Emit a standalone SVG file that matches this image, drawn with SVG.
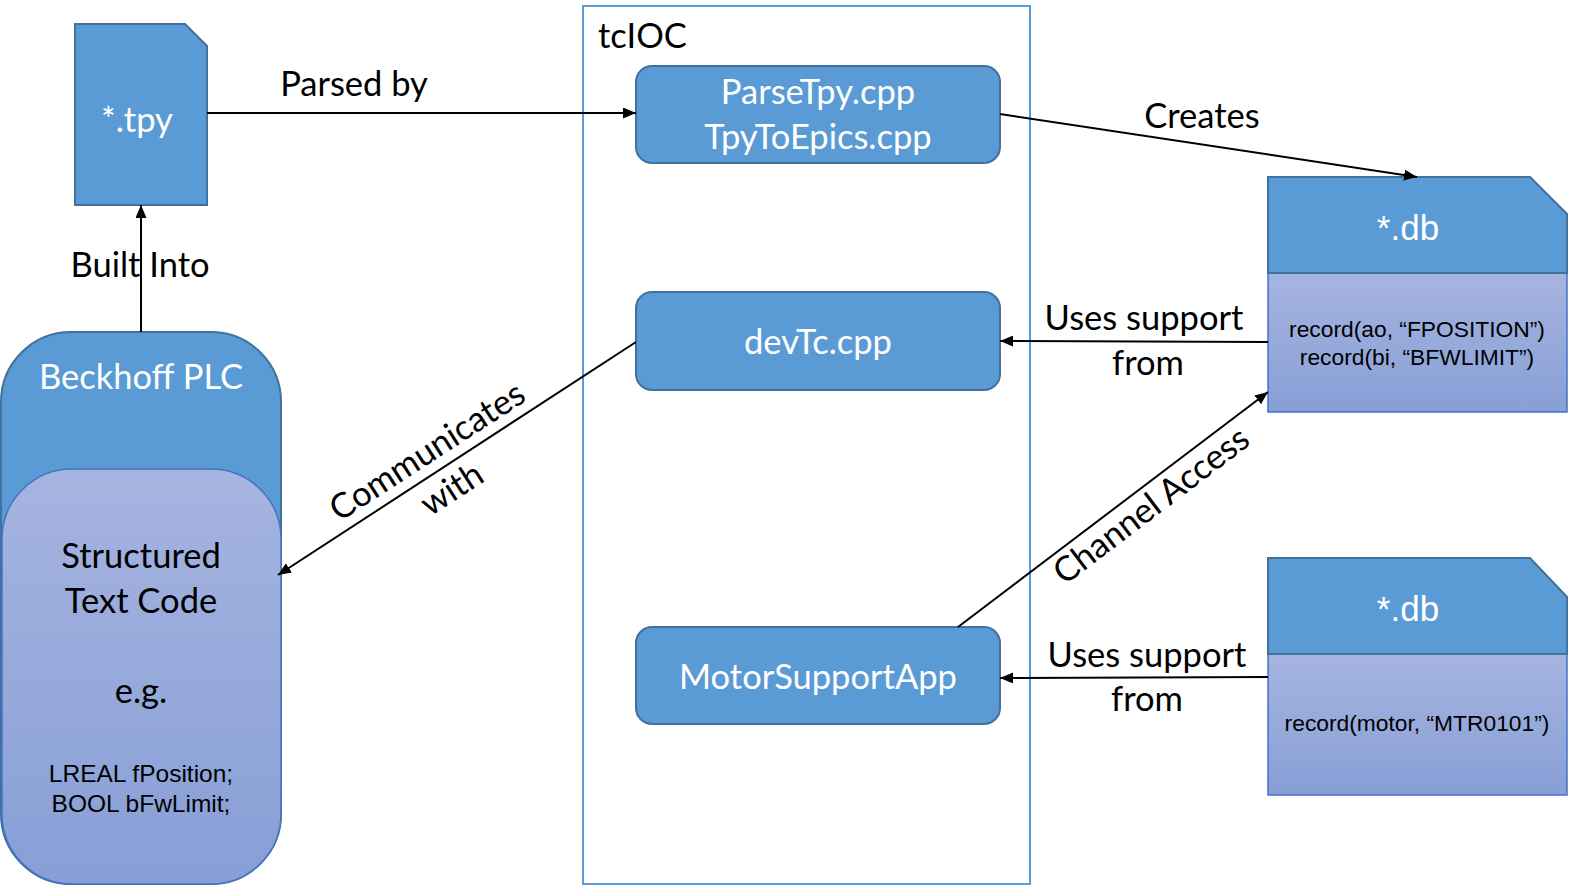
<svg xmlns="http://www.w3.org/2000/svg" width="1570" height="886" viewBox="0 0 1570 886">
<style>
.blue{fill:#5B9BD5;stroke:#41719C;stroke-width:2}
.grad{fill:url(#g);stroke:#4472C4;stroke-width:1.5}
.t{font-family:Lato,"Liberation Sans",sans-serif;font-size:34.5px;text-anchor:middle}
.a{font-family:"Liberation Sans",Arial,sans-serif;text-anchor:middle}
.w{fill:#fff}
.k{fill:#000}
.ln{stroke:#000;stroke-width:2;fill:none;marker-end:url(#arr)}
</style>
<defs>
<linearGradient id="g" x1="0" y1="0" x2="0" y2="1">
<stop offset="0" stop-color="#A6B4E0"/>
<stop offset="1" stop-color="#879FD6"/>
</linearGradient>
<marker id="arr" viewBox="0 0 13 11" refX="13" refY="5.5" markerWidth="13" markerHeight="11" markerUnits="userSpaceOnUse" orient="auto">
<path d="M0,0 L13,5.5 L0,11 z" fill="#000"/>
</marker>
</defs>
<rect id="tcIOC" x="583" y="6" width="447" height="878" fill="none" stroke="#5B9BD5" stroke-width="2"/>
<text class="t k" x="598" y="48" style="text-anchor:start">tcIOC</text>
<g id="tpy">
<path class="blue" d="M75,24 H185 L207,46 V205 H75 Z"/>
<text class="t w" x="137" y="132">*.tpy</text>
</g>
<g id="plc">
<rect class="blue" x="1" y="332" width="280" height="552" rx="70" ry="70"/>
<rect class="grad" x="2" y="469" width="279" height="415" rx="70" ry="70"/>
<text class="t w" x="141" y="389">Beckhoff PLC</text>
<text class="t k" x="141" y="568">Structured</text>
<text class="t k" x="141" y="613">Text Code</text>
<text class="t k" x="141" y="703">e.g.</text>
<text class="a k" x="141" y="782" font-size="24.5">LREAL fPosition;</text>
<text class="a k" x="141" y="812" font-size="24.5">BOOL bFwLimit;</text>
</g>
<g id="parse">
<rect class="blue" x="636" y="66" width="364" height="97" rx="16" ry="16"/>
<text class="t w" x="818" y="104">ParseTpy.cpp</text>
<text class="t w" x="818" y="149">TpyToEpics.cpp</text>
</g>
<g id="devtc">
<rect class="blue" x="636" y="292" width="364" height="98" rx="16" ry="16"/>
<text class="t w" x="818" y="354">devTc.cpp</text>
</g>
<g id="motor">
<rect class="blue" x="636" y="627" width="364" height="97" rx="16" ry="16"/>
<text class="t w" x="818" y="689">MotorSupportApp</text>
</g>
<g id="db1">
<rect class="grad" x="1268" y="273" width="299" height="139"/>
<path class="blue" d="M1268,177 H1530 L1567,214 V273 H1268 Z"/>
<text class="a w" x="1408" y="240" font-size="35">*.db</text>
<text class="a k" x="1417" y="337" font-size="22.8">record(ao, “FPOSITION”)</text>
<text class="a k" x="1417" y="365" font-size="22.8">record(bi, “BFWLIMIT”)</text>
</g>
<g id="db2">
<rect class="grad" x="1268" y="654" width="299" height="141"/>
<path class="blue" d="M1268,558 H1530 L1567,597 V654 H1268 Z"/>
<text class="a w" x="1408" y="621" font-size="35">*.db</text>
<text class="a k" x="1417" y="731" font-size="22.8">record(motor, “MTR0101”)</text>
</g>
<g id="connectors">
<line class="ln" x1="207" y1="113" x2="636" y2="113"/>
<line class="ln" x1="141" y1="332" x2="141" y2="205"/>
<line class="ln" x1="1000" y1="114" x2="1417" y2="177"/>
<line class="ln" x1="1268" y1="342" x2="1000" y2="341"/>
<line class="ln" x1="1268" y1="677" x2="1000" y2="678"/>
<line class="ln" x1="958" y1="627" x2="1268" y2="392"/>
<line class="ln" x1="636" y1="342" x2="278" y2="575"/>
<text class="t k" x="354" y="96">Parsed by</text>
<text class="t k" x="140" y="277">Built Into</text>
<text class="t k" x="1202" y="128">Creates</text>
<text class="t k" x="1144" y="330">Uses support</text>
<text class="t k" x="1148" y="375">from</text>
<text class="t k" x="1147" y="667">Uses support</text>
<text class="t k" x="1147" y="711">from</text>
<text class="t k" transform="translate(1151,505) rotate(-37.2)" x="0" y="12">Channel Access</text>
<g transform="translate(427,451) rotate(-33)">
<text class="t k" x="0" y="12">Communicates</text>
<text class="t k" x="0" y="57">with</text>
</g>
</g>
</svg>
